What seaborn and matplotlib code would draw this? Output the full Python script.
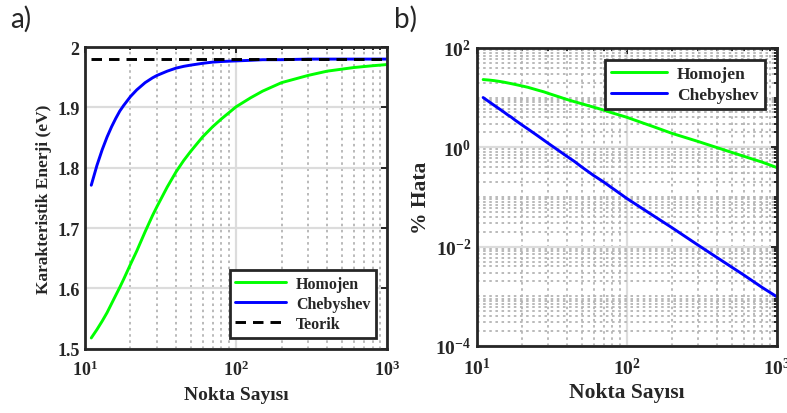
import seaborn as sns
import matplotlib.pyplot as plt
from matplotlib.ticker import LogLocator, NullFormatter, FixedLocator, FixedFormatter

# nokta sayisi (sample points)
npts = [11, 12, 13, 14, 15, 16, 17, 18, 20, 22, 25, 28, 30, 35, 40, 45, 50, 60, 70, 80,
        100, 125, 150, 200, 300, 400, 600, 800, 1000]

# a) karakteristik enerji (eV)
homojen_energy = [1.518, 1.532, 1.546, 1.560, 1.575, 1.589, 1.602, 1.615, 1.640, 1.662,
                  1.694, 1.721, 1.736, 1.768, 1.793, 1.812, 1.827, 1.851, 1.868, 1.881,
                  1.901, 1.916, 1.927, 1.941, 1.953, 1.960, 1.966, 1.969, 1.971]
chebyshev_energy = [1.771, 1.804, 1.830, 1.851, 1.868, 1.882, 1.894, 1.903, 1.918, 1.929,
                    1.941, 1.949, 1.953, 1.960, 1.965, 1.968, 1.970, 1.973, 1.975, 1.976,
                    1.977, 1.978, 1.979, 1.979, 1.980, 1.980, 1.980, 1.980, 1.980]
teorik_n = [11, 1000]
teorik_energy = [1.98, 1.98]

# b) % hata
homojen_error = [23.0, 22.5, 21.9, 21.2, 20.5, 19.7, 19.0, 18.3, 17.1, 16.0,
                 14.3, 13.0, 12.1, 10.4, 9.1, 8.2, 7.5, 6.4, 5.6, 4.9,
                 4.0, 3.15, 2.6, 1.9, 1.3, 0.98, 0.66, 0.50, 0.39]
chebyshev_error = [10.0, 8.3, 7.0, 6.0, 5.2, 4.5, 4.0, 3.5, 2.8, 2.3,
                   1.76, 1.38, 1.19, 0.86, 0.65, 0.51, 0.40, 0.27, 0.20, 0.15,
                   0.093, 0.060, 0.042, 0.024, 0.0106, 0.0060, 0.0027, 0.0015, 0.00098]

a_yticks = [1.5, 1.6, 1.7, 1.8, 1.9, 2.0]
a_yticklabels = ['1.5', '1.6', '1.7', '1.8', '1.9', '2']
xticks = [10, 100, 1000]
xticklabels = [r'$\mathbf{10^{1}}$', r'$\mathbf{10^{2}}$', r'$\mathbf{10^{3}}$']
b_yticks = [1e-4, 1e-2, 1e0, 1e2]
b_yticklabels = [r'$\mathbf{10^{-4}}$', r'$\mathbf{10^{-2}}$', r'$\mathbf{10^{0}}$', r'$\mathbf{10^{2}}$']

sns.set_theme(style='white')
plt.rcParams['font.family'] = ['Liberation Serif', 'DejaVu Serif']
plt.rcParams['font.weight'] = 'bold'
plt.rcParams['mathtext.fontset'] = 'custom'
plt.rcParams['mathtext.rm'] = 'Liberation Serif:bold'
plt.rcParams['mathtext.bf'] = 'Liberation Serif:bold'
plt.rcParams['mathtext.it'] = 'Liberation Serif:bold'

GREEN = '#00ff00'
BLUE = '#0000ff'
DARK = '#262626'
LW = 2.1
MINOR_LS = (0, (1.4, 2.0))


def style_axes(ax, fs):
    ax.set_xscale('log')
    ax.set_xlim(10, 1000)
    ax.xaxis.set_major_locator(FixedLocator(xticks))
    ax.xaxis.set_major_formatter(FixedFormatter(xticklabels))
    ax.xaxis.set_minor_locator(LogLocator(base=10, subs=range(2, 10)))
    ax.xaxis.set_minor_formatter(NullFormatter())
    ax.tick_params(which='both', direction='in', top=True, right=True, colors=DARK,
                   labelcolor=DARK, labelsize=fs, width=1.4)
    ax.tick_params(which='major', length=4.5)
    ax.tick_params(which='minor', length=2.5)
    ax.tick_params(axis='x', which='major', pad=8)
    ax.tick_params(axis='y', which='major', pad=4)
    for sp in ax.spines.values():
        sp.set_linewidth(2.0)
        sp.set_color(DARK)
        sp.set_zorder(5)
    ax.grid(True, which='major', color='#dcdcdc', linewidth=1.6, linestyle='-')
    ax.set_axisbelow(True)


def style_legend(ax, loc, fs):
    leg = ax.legend(loc=loc, fancybox=False, framealpha=1, edgecolor=DARK,
                    handlelength=3.2, borderpad=0.35, labelspacing=0.25,
                    handletextpad=0.6, borderaxespad=0.7, prop={'weight': 'bold', 'size': fs})
    leg.get_frame().set_linewidth(2.0)
    leg.set_zorder(6)


fig = plt.figure(figsize=(7.87, 4.14), dpi=100)
ax_a = fig.add_axes([0.108, 0.155, 0.384, 0.729])
ax_b = fig.add_axes([0.606, 0.162, 0.381, 0.720])

# ---- panel a ----
style_axes(ax_a, 13)
ax_a.grid(True, which='minor', axis='x', color='#b4b4b4', linewidth=1.3, linestyle=MINOR_LS)
sns.lineplot(x=npts, y=homojen_energy, ax=ax_a, color=GREEN, linewidth=LW, label='Homojen', sort=False)
sns.lineplot(x=npts, y=chebyshev_energy, ax=ax_a, color=BLUE, linewidth=LW, label='Chebyshev', sort=False)
sns.lineplot(x=teorik_n, y=teorik_energy, ax=ax_a, color='black', linewidth=LW,
             linestyle=(0, (3.6, 2.4)), label='Teorik', sort=False)
ax_a.set_ylim(1.5, 2.0)
ax_a.yaxis.set_major_locator(FixedLocator(a_yticks))
ax_a.yaxis.set_major_formatter(FixedFormatter(a_yticklabels))
ax_a.set_xlabel('Nokta Sayısı', fontsize=14, fontweight='bold', color=DARK, labelpad=5)
ax_a.set_ylabel('Karakteristik Enerji (eV)', fontsize=12.5, fontweight='bold', color=DARK, labelpad=4)
style_legend(ax_a, 'lower right', 11.5)

# ---- panel b ----
style_axes(ax_b, 14)
ax_b.set_yscale('log')
ax_b.set_ylim(1e-4, 1e2)
ax_b.yaxis.set_major_locator(FixedLocator(b_yticks))
ax_b.yaxis.set_major_formatter(FixedFormatter(b_yticklabels))
ax_b.yaxis.set_minor_locator(LogLocator(base=10, subs=range(1, 10), numticks=20))
ax_b.yaxis.set_minor_formatter(NullFormatter())
ax_b.grid(True, which='minor', color='#b4b4b4', linewidth=1.3, linestyle=MINOR_LS)
ax_b.grid(True, which='major', color='#dcdcdc', linewidth=1.6, linestyle='-')
sns.lineplot(x=npts, y=homojen_error, ax=ax_b, color=GREEN, linewidth=LW, label='Homojen', sort=False)
sns.lineplot(x=npts, y=chebyshev_error, ax=ax_b, color=BLUE, linewidth=LW, label='Chebyshev', sort=False)
ax_b.set_xlabel('Nokta Sayısı', fontsize=15.5, fontweight='bold', color=DARK, labelpad=3)
ax_b.set_ylabel('% Hata', fontsize=15.5, fontweight='bold', color=DARK, labelpad=3)
style_legend(ax_b, 'upper right', 12.5)

fig.text(0.013, 0.985, 'a)', fontsize=20, family=['Lato', 'DejaVu Sans'], fontweight='normal', va='top')
fig.text(0.500, 0.985, 'b)', fontsize=20, family=['Lato', 'DejaVu Sans'], fontweight='normal', va='top')

fig.savefig('out.png', dpi=100)
